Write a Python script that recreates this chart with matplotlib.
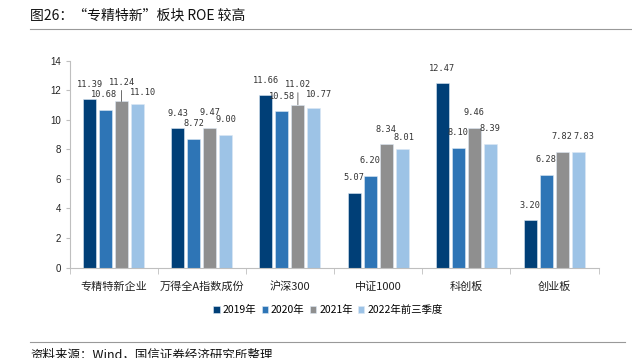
import matplotlib
matplotlib.use("Agg")
import matplotlib.pyplot as plt
import numpy as np
from matplotlib.lines import Line2D

categories = ["专精特新企业", "万得全A指数成份", "沪深300", "中证1000", "科创板", "创业板"]
series_names = ["2019年", "2020年", "2021年", "2022年前三季度"]
roe_2019 = [11.39, 9.43, 11.66, 5.07, 12.47, 3.20]
roe_2020 = [10.68, 8.72, 10.58, 6.20, 8.10, 6.28]
roe_2021 = [11.24, 9.47, 11.02, 8.34, 9.46, 7.82]
roe_2022 = [11.10, 9.00, 10.77, 8.01, 8.39, 7.83]
y_ticks = [0, 2, 4, 6, 8, 10, 12, 14]

title = "图26：“专精特新”板块 ROE 较高"
source = "资料来源：Wind，国信证券经济研究所整理"

colors = ["#003f77", "#2e75b6", "#8f8f8f", "#9dc3e6"]
series = [roe_2019, roe_2020, roe_2021, roe_2022]

# label offsets (pixels) for (series, category); default (0, 15)
label_offsets = {
    (1, 0): (-2, 15),
    (2, 0): (0, 19),
    (3, 0): (6, 11),
    (2, 2): (0, 20),
    (3, 2): (5, 14),
    (3, 3): (2, 12),
    (3, 5): (6, 15),
}
leader_lines = {(2, 0), (2, 2)}

W, H = 632, 358
fig = plt.figure(figsize=(W / 100, H / 100), dpi=100)
ax = fig.add_axes([69.5 / W, 1 - 267.5 / H, (598.5 - 69.5) / W, (267.5 - 60.7) / H])

x = np.arange(len(categories))
step = 0.181
width = 0.147
for s, vals in enumerate(series):
    xs = x + (s - 1.5) * step
    ax.bar(xs, vals, width=width, color=colors[s], edgecolor="#dce8f4", linewidth=0.4,
           label=series_names[s], zorder=2)
    for c, v in enumerate(vals):
        dx, dy = label_offsets.get((s, c), (0, 15))
        kw = dict(xy=(xs[c], v), xytext=(dx, dy), textcoords="offset pixels",
                  ha="center", va="center", fontsize=6.2, family="DejaVu Sans Mono",
                  color="#333333")
        if (s, c) in leader_lines:
            kw["arrowprops"] = dict(arrowstyle="-", color="#555555", lw=0.6,
                                    shrinkA=0.5, shrinkB=0)
        ax.annotate(f"{v:.2f}", **kw)

ax.set_xlim(-0.5, len(categories) - 0.5)
ax.set_ylim(0, 14)
ax.set_yticks(y_ticks)
ax.set_yticklabels([str(t) for t in y_ticks], fontsize=7, family="Liberation Sans", color="#222222")
ax.set_xticks(x)
ax.set_xticklabels(categories, fontsize=8, family=["Noto Sans CJK SC", "DejaVu Sans"], color="#222222")
ax.set_xticks(np.arange(-0.5, len(categories)), minor=True)
ax.tick_params(axis="x", which="major", length=0, pad=10)
ax.tick_params(axis="x", which="minor", length=4, color="#bfbfbf", direction="out")
ax.tick_params(axis="y", length=3, color="#bfbfbf", direction="out", pad=3)
for sp in ["top", "right"]:
    ax.spines[sp].set_visible(False)
for sp in ["left", "bottom"]:
    ax.spines[sp].set_color("#bfbfbf")
    ax.spines[sp].set_linewidth(0.8)

handles, labels = ax.get_legend_handles_labels()
leg = fig.legend(handles, labels, loc="center", bbox_to_anchor=(328 / W, 1 - 310 / H), ncol=4,
                 frameon=False, handlelength=0.6, handleheight=0.6, handletextpad=0.3,
                 columnspacing=0.5, prop={"family": ["Noto Sans CJK SC", "DejaVu Sans"], "size": 7.5})

fig.text(30 / W, 1 - 16 / H, title, fontsize=10, family=["Noto Sans CJK SC", "DejaVu Sans"],
         ha="left", va="center", color="#111111")
fig.add_artist(Line2D([30 / W, 1.0], [1 - 29 / H, 1 - 29 / H], color="#999999", lw=0.8))
fig.add_artist(Line2D([30 / W, 625 / W], [1 - 342 / H, 1 - 342 / H], color="#999999", lw=0.8))
fig.text(30 / W, 1 - 355 / H, source, fontsize=9, family=["Noto Sans CJK SC", "DejaVu Sans"],
         ha="left", va="center", color="#111111")

fig.savefig("out.png", dpi=100)
